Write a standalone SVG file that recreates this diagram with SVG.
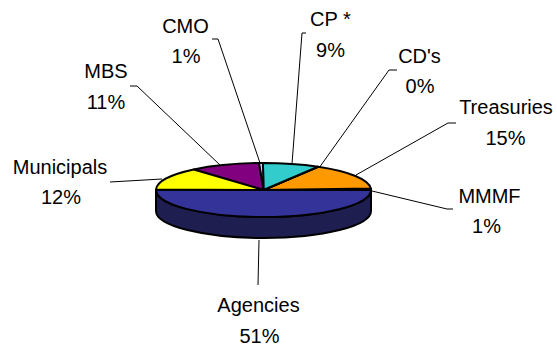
<svg xmlns="http://www.w3.org/2000/svg" width="557" height="347" viewBox="0 0 557 347">
<style>
.lbl{font-family:"Liberation Sans",Arial,sans-serif;font-size:20px;fill:#000;text-anchor:middle}
.sl{stroke:#000;stroke-width:2;stroke-linejoin:round}
.ld{fill:none;stroke:#000;stroke-width:1}
</style>
<rect width="557" height="347" fill="#fff"/>
<g id="pie">
<path id="agencies-side" class="sl" fill="#1e1e50" d="M156,190 A107.5,27 0 0 0 371,190 L371,211 A107.5,27 0 0 1 156,211 Z"/>
<g id="agencies"><path class="sl" fill="#333399" d="M263.5,190 L156.02,189.53 A107.5,27 0 1 0 371,190 Z"/></g>
<g id="mmmf"><path class="sl" fill="#9999ff" d="M263.5,190 L371,190 A107.5,27 0 0 0 370.85,188.59 Z"/></g>
<g id="treasuries"><path class="sl" fill="#ff9900" d="M263.5,190 L318.06,166.74 A107.5,27 0 0 1 370.85,188.59 Z"/></g>
<g id="cds"><path class="sl" fill="#ffffcc" d="M263.5,190 L318.06,166.74 Z"/></g>
<g id="cp"><path class="sl" fill="#33cccc" d="M263.5,190 L262.94,163 A107.5,27 0 0 1 318.06,166.74 Z"/></g>
<g id="cmo"><path class="sl" fill="#ccccff" d="M263.5,190 L258.81,163.03 A107.5,27 0 0 1 262.94,163 Z"/></g>
<g id="mbs"><path class="sl" fill="#800080" d="M263.5,190 L193.69,169.47 A107.5,27 0 0 1 258.81,163.03 Z"/></g>
<g id="municipals"><path class="sl" fill="#ffff00" d="M263.5,190 L156.02,189.53 A107.5,27 0 0 1 193.69,169.47 Z"/></g>
</g>
<g id="connectors">
<path class="ld" d="M212,39 L218,39 L260,163"/>
<path class="ld" d="M130,86 L137,86 L220,165"/>
<path class="ld" d="M110,182 L162,179"/>
<path class="ld" d="M306,33 L302,33 L292,164"/>
<path class="ld" d="M397,70 L389,70 L319,168"/>
<path class="ld" d="M456,123 L448,123 L356,175"/>
<path class="ld" d="M372,191 L447,209 L453,209"/>
<path class="ld" d="M259,240 L258,285"/>
</g>
<g id="labels">
<g id="lbl-cmo"><text class="lbl" x="185.5" y="33">CMO</text><text class="lbl" x="186" y="63">1%</text></g>
<g id="lbl-mbs"><text class="lbl" x="106" y="78">MBS</text><text class="lbl" x="106" y="109">11%</text></g>
<g id="lbl-municipals"><text class="lbl" x="60" y="174">Municipals</text><text class="lbl" x="61" y="204">12%</text></g>
<g id="lbl-cp"><text class="lbl" x="330.5" y="26">CP *</text><text class="lbl" x="330.5" y="57">9%</text></g>
<g id="lbl-cds"><text class="lbl" x="419.5" y="63">CD's</text><text class="lbl" x="420" y="93">0%</text></g>
<g id="lbl-treasuries"><text class="lbl" x="506" y="114">Treasuries</text><text class="lbl" x="505.5" y="145">15%</text></g>
<g id="lbl-mmmf"><text class="lbl" x="489.5" y="203">MMMF</text><text class="lbl" x="486.5" y="233">1%</text></g>
<g id="lbl-agencies"><text class="lbl" x="258.5" y="312">Agencies</text><text class="lbl" x="259.5" y="343">51%</text></g>
</g>
</svg>
